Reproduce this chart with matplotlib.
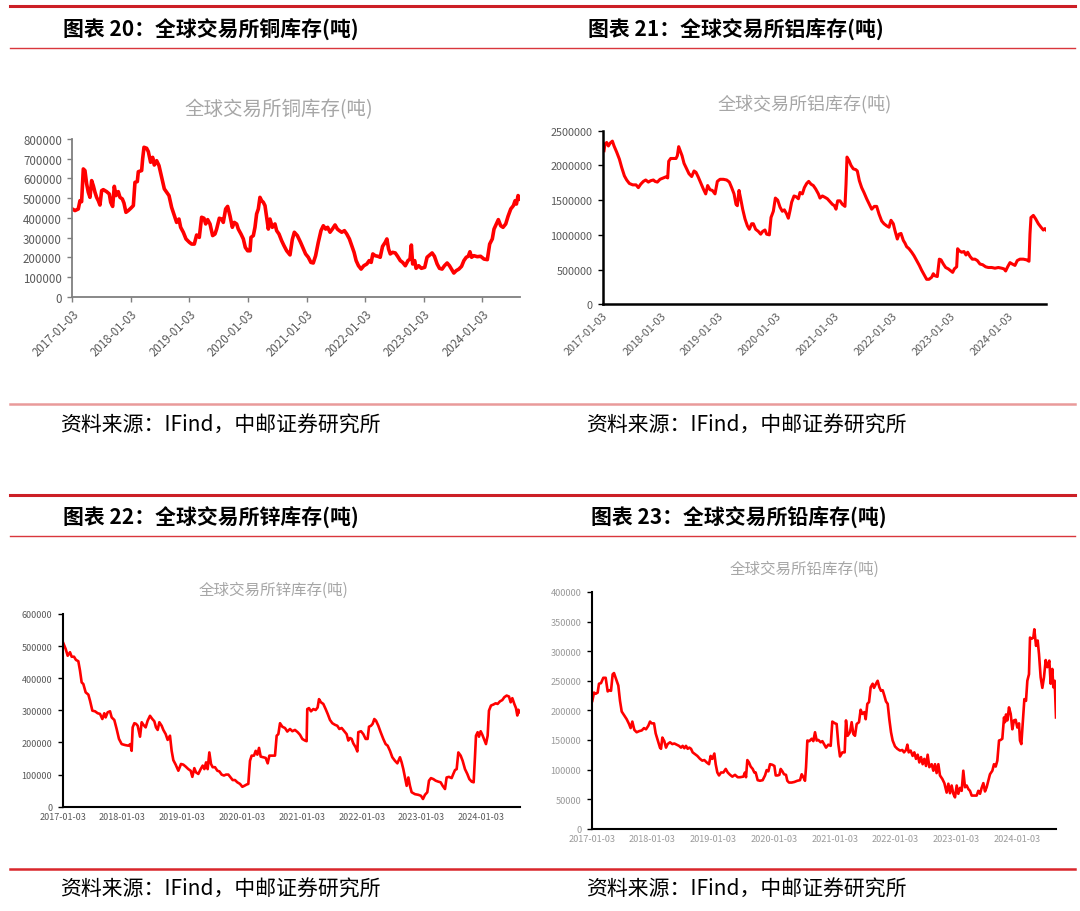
import matplotlib.pyplot as plt
from matplotlib.lines import Line2D

plt.rcParams['font.family'] = ['Noto Sans CJK SC', 'DejaVu Sans']

# x positions are decimal years, values are thousand tonnes
year_ticks = [2017, 2018, 2019, 2020, 2021, 2022, 2023, 2024]
tick_labels = ['2017-01-03', '2018-01-03', '2019-01-03', '2020-01-03',
               '2021-01-03', '2022-01-03', '2023-01-03', '2024-01-03']

cu_years = [2017.000, 2017.046, 2017.102, 2017.131, 2017.159, 2017.188, 2017.216, 2017.245, 2017.273, 2017.302,
            2017.330, 2017.359, 2017.387, 2017.415, 2017.444, 2017.472, 2017.501, 2017.529, 2017.586, 2017.632,
            2017.655, 2017.689, 2017.717, 2017.746, 2017.785, 2017.814, 2017.854, 2017.882, 2017.916, 2017.956,
            2017.996, 2018.042, 2018.070, 2018.110, 2018.127, 2018.184, 2018.201, 2018.224, 2018.269, 2018.298,
            2018.337, 2018.372, 2018.400, 2018.440, 2018.480, 2018.525, 2018.571, 2018.611, 2018.651, 2018.696,
            2018.742, 2018.781, 2018.821, 2018.850, 2018.895, 2018.941, 2018.998, 2019.038, 2019.083, 2019.123,
            2019.168, 2019.208, 2019.248, 2019.277, 2019.311, 2019.351, 2019.396, 2019.436, 2019.464, 2019.510,
            2019.550, 2019.578, 2019.618, 2019.652, 2019.692, 2019.732, 2019.766, 2019.806, 2019.834, 2019.880,
            2019.920, 2019.954, 2019.994, 2020.034, 2020.051, 2020.091, 2020.119, 2020.147, 2020.176, 2020.204,
            2020.233, 2020.261, 2020.290, 2020.318, 2020.347, 2020.375, 2020.415, 2020.460, 2020.489, 2020.529,
            2020.574, 2020.614, 2020.660, 2020.717, 2020.756, 2020.791, 2020.842, 2020.897, 2020.943, 2020.983,
            2021.029, 2021.074, 2021.114, 2021.154, 2021.200, 2021.246, 2021.286, 2021.326, 2021.360, 2021.400,
            2021.440, 2021.486, 2021.526, 2021.560, 2021.600, 2021.646, 2021.686, 2021.731, 2021.771, 2021.811,
            2021.846, 2021.886, 2021.931, 2021.977, 2022.029, 2022.069, 2022.103, 2022.131, 2022.171, 2022.217,
            2022.257, 2022.297, 2022.343, 2022.371, 2022.400, 2022.429, 2022.469, 2022.514, 2022.554, 2022.600,
            2022.640, 2022.686, 2022.731, 2022.766, 2022.789, 2022.811, 2022.846, 2022.869, 2022.914, 2022.960,
            2023.017, 2023.057, 2023.103, 2023.143, 2023.183, 2023.229, 2023.269, 2023.314, 2023.354, 2023.400,
            2023.440, 2023.474, 2023.514, 2023.554, 2023.600, 2023.646, 2023.686, 2023.726, 2023.760, 2023.789,
            2023.817, 2023.857, 2023.914, 2023.971, 2024.029, 2024.086, 2024.126, 2024.171, 2024.200, 2024.240,
            2024.274, 2024.314, 2024.354, 2024.400, 2024.440, 2024.486, 2024.531, 2024.560, 2024.583, 2024.611,
            2024.640]
cu_kt = [445, 437, 445, 487, 482, 648, 640, 572, 530, 504,
         589, 563, 530, 504, 487, 465, 538, 543, 533, 521,
         479, 458, 560, 513, 533, 504, 496, 475, 428, 437,
         448, 462, 580, 584, 634, 640, 699, 758, 753, 736,
         682, 707, 668, 690, 665, 606, 547, 530, 513, 453,
         411, 377, 394, 352, 327, 293, 276, 267, 267, 313,
         301, 403, 398, 369, 391, 369, 310, 318, 343, 398,
         394, 377, 445, 458, 411, 352, 377, 369, 343, 318,
         293, 250, 233, 233, 301, 310, 352, 420, 445, 504,
         487, 479, 462, 403, 343, 394, 352, 369, 335, 318,
         284, 259, 233, 212, 290, 327, 310, 276, 245, 217,
         200, 174, 171, 208, 276, 335, 360, 343, 352, 327,
         343, 364, 343, 335, 327, 335, 318, 293, 259, 225,
         183, 157, 140, 157, 166, 183, 174, 217, 208, 205,
         200, 255, 276, 293, 242, 217, 225, 222, 205, 183,
         174, 157, 183, 191, 262, 166, 183, 144, 157, 144,
         149, 200, 212, 222, 205, 166, 144, 140, 157, 171,
         157, 140, 120, 132, 140, 154, 183, 200, 205, 228,
         200, 208, 203, 205, 191, 188, 267, 293, 343, 369,
         391, 360, 352, 369, 408, 445, 462, 487, 470, 513,
         496]

al_years = [2017.023, 2017.040, 2017.069, 2017.098, 2017.127, 2017.167, 2017.196, 2017.242, 2017.288, 2017.328,
            2017.374, 2017.414, 2017.460, 2017.518, 2017.575, 2017.615, 2017.656, 2017.702, 2017.742, 2017.788,
            2017.828, 2017.874, 2017.903, 2017.943, 2017.989, 2018.047, 2018.104, 2018.121, 2018.139, 2018.173,
            2018.219, 2018.265, 2018.288, 2018.311, 2018.334, 2018.369, 2018.403, 2018.449, 2018.489, 2018.535,
            2018.576, 2018.610, 2018.650, 2018.696, 2018.737, 2018.777, 2018.811, 2018.852, 2018.892, 2018.938,
            2018.978, 2019.024, 2019.082, 2019.139, 2019.185, 2019.225, 2019.266, 2019.300, 2019.323, 2019.352,
            2019.381, 2019.415, 2019.455, 2019.496, 2019.530, 2019.570, 2019.599, 2019.639, 2019.685, 2019.726,
            2019.760, 2019.800, 2019.829, 2019.875, 2019.904, 2019.944, 2019.979, 2020.019, 2020.059, 2020.099,
            2020.134, 2020.174, 2020.203, 2020.232, 2020.260, 2020.301, 2020.335, 2020.376, 2020.404, 2020.445,
            2020.479, 2020.519, 2020.554, 2020.594, 2020.634, 2020.675, 2020.721, 2020.749, 2020.790, 2020.836,
            2020.876, 2020.962, 2020.997, 2021.025, 2021.054, 2021.094, 2021.135, 2021.180, 2021.198, 2021.215,
            2021.250, 2021.284, 2021.324, 2021.365, 2021.393, 2021.428, 2021.468, 2021.508, 2021.554, 2021.600,
            2021.641, 2021.687, 2021.727, 2021.767, 2021.813, 2021.853, 2021.899, 2021.940, 2021.974, 2022.014,
            2022.043, 2022.083, 2022.112, 2022.147, 2022.170, 2022.187, 2022.216, 2022.244, 2022.285, 2022.331,
            2022.371, 2022.417, 2022.463, 2022.503, 2022.543, 2022.589, 2022.630, 2022.676, 2022.704, 2022.733,
            2022.773, 2022.808, 2022.837, 2022.877, 2022.917, 2022.963, 2023.009, 2023.038, 2023.067, 2023.107,
            2023.124, 2023.153, 2023.193, 2023.233, 2023.268, 2023.297, 2023.337, 2023.377, 2023.423, 2023.463,
            2023.509, 2023.555, 2023.607, 2023.653, 2023.711, 2023.768, 2023.826, 2023.883, 2023.924, 2023.952,
            2023.987, 2024.027, 2024.067, 2024.113, 2024.153, 2024.199, 2024.257, 2024.314, 2024.355, 2024.372,
            2024.389, 2024.430, 2024.470, 2024.516, 2024.562, 2024.602, 2024.631, 2024.660]
al_kt = [2212, 2310, 2330, 2280, 2320, 2350, 2280, 2190, 2090, 1970,
         1850, 1790, 1740, 1720, 1720, 1680, 1730, 1770, 1790, 1760,
         1780, 1790, 1770, 1760, 1800, 1820, 1840, 1820, 2060, 2100,
         2100, 2100, 2140, 2270, 2220, 2140, 2030, 1950, 1880, 1840,
         1920, 1900, 1830, 1740, 1660, 1590, 1710, 1650, 1640, 1590,
         1770, 1800, 1800, 1790, 1760, 1680, 1590, 1440, 1420, 1640,
         1520, 1370, 1230, 1130, 1080, 1160, 1160, 1080, 1050, 1010,
         1050, 1070, 1010, 1000, 1250, 1340, 1530, 1500, 1400, 1340,
         1360, 1300, 1240, 1350, 1470, 1560, 1550, 1520, 1610, 1590,
         1680, 1740, 1770, 1730, 1710, 1660, 1590, 1530, 1560, 1540,
         1520, 1440, 1420, 1370, 1490, 1490, 1440, 1410, 1730, 2120,
         2070, 2000, 1950, 1940, 1920, 1780, 1680, 1610, 1520, 1440,
         1370, 1410, 1410, 1300, 1200, 1160, 1130, 1110, 1210, 1160,
         1060, 940, 1010, 1020, 960, 920, 880, 830, 800, 750,
         700, 630, 560, 490, 430, 360, 360, 390, 440, 410,
         400, 650, 640, 580, 530, 510, 480, 460, 510, 540,
         800, 770, 750, 760, 710, 750, 690, 650, 650, 630,
         580, 570, 540, 530, 530, 520, 530, 520, 510, 480,
         540, 600, 580, 560, 630, 650, 650, 640, 620, 1010,
         1250, 1280, 1230, 1160, 1110, 1070, 1090, 1060]

zn_years = [2017.011, 2017.050, 2017.083, 2017.122, 2017.150, 2017.189, 2017.222, 2017.261, 2017.289, 2017.317,
            2017.345, 2017.384, 2017.429, 2017.457, 2017.496, 2017.541, 2017.585, 2017.624, 2017.663, 2017.696,
            2017.718, 2017.752, 2017.791, 2017.819, 2017.863, 2017.902, 2017.941, 2017.986, 2018.042, 2018.098,
            2018.131, 2018.153, 2018.170, 2018.198, 2018.226, 2018.254, 2018.293, 2018.321, 2018.349, 2018.387,
            2018.421, 2018.460, 2018.499, 2018.532, 2018.560, 2018.588, 2018.616, 2018.655, 2018.683, 2018.722,
            2018.755, 2018.794, 2018.822, 2018.850, 2018.889, 2018.934, 2018.978, 2019.017, 2019.056, 2019.101,
            2019.140, 2019.168, 2019.201, 2019.229, 2019.268, 2019.307, 2019.341, 2019.369, 2019.397, 2019.424,
            2019.452, 2019.480, 2019.508, 2019.547, 2019.586, 2019.620, 2019.658, 2019.697, 2019.731, 2019.770,
            2019.809, 2019.842, 2019.881, 2019.920, 2019.965, 2020.004, 2020.037, 2020.076, 2020.104, 2020.132,
            2020.160, 2020.199, 2020.227, 2020.255, 2020.283, 2020.311, 2020.355, 2020.394, 2020.428, 2020.456,
            2020.494, 2020.550, 2020.578, 2020.606, 2020.634, 2020.673, 2020.717, 2020.756, 2020.801, 2020.840,
            2020.884, 2020.929, 2020.968, 2021.007, 2021.051, 2021.079, 2021.090, 2021.118, 2021.152, 2021.191,
            2021.230, 2021.263, 2021.286, 2021.319, 2021.358, 2021.397, 2021.431, 2021.470, 2021.509, 2021.553,
            2021.592, 2021.626, 2021.665, 2021.709, 2021.748, 2021.776, 2021.804, 2021.832, 2021.860, 2021.899,
            2021.927, 2021.943, 2021.988, 2022.027, 2022.066, 2022.099, 2022.122, 2022.155, 2022.183, 2022.211,
            2022.239, 2022.278, 2022.317, 2022.361, 2022.400, 2022.434, 2022.473, 2022.512, 2022.556, 2022.596,
            2022.640, 2022.668, 2022.696, 2022.724, 2022.752, 2022.780, 2022.807, 2022.835, 2022.891, 2022.947,
            2022.991, 2023.025, 2023.058, 2023.097, 2023.125, 2023.158, 2023.198, 2023.237, 2023.281, 2023.320,
            2023.354, 2023.393, 2023.420, 2023.459, 2023.504, 2023.532, 2023.560, 2023.588, 2023.616, 2023.655,
            2023.688, 2023.727, 2023.766, 2023.800, 2023.839, 2023.872, 2023.894, 2023.911, 2023.939, 2023.961,
            2023.989, 2024.017, 2024.050, 2024.078, 2024.106, 2024.128, 2024.162, 2024.201, 2024.240, 2024.273,
            2024.312, 2024.351, 2024.385, 2024.424, 2024.463, 2024.491, 2024.519, 2024.552, 2024.580, 2024.602,
            2024.619, 2024.647]
zn_kt = [509, 491, 470, 481, 467, 467, 457, 453, 424, 387,
         382, 356, 349, 330, 299, 297, 291, 289, 273, 291,
         278, 294, 297, 278, 270, 242, 211, 195, 192, 190,
         195, 174, 247, 260, 258, 252, 218, 263, 255, 247,
         268, 283, 273, 266, 247, 239, 263, 252, 239, 226,
         208, 221, 174, 145, 131, 112, 133, 131, 125, 117,
         112, 93, 120, 107, 102, 117, 128, 117, 138, 117,
         169, 133, 123, 123, 112, 110, 100, 97, 100, 100,
         91, 83, 83, 76, 71, 62, 65, 69, 71, 143,
         159, 159, 174, 162, 183, 156, 154, 152, 135, 159,
         159, 159, 221, 226, 260, 249, 245, 234, 242, 235,
         239, 232, 224, 211, 206, 204, 304, 307, 297, 304,
         301, 309, 335, 325, 320, 304, 289, 270, 260, 255,
         252, 242, 245, 235, 226, 206, 214, 211, 197, 185,
         172, 232, 235, 226, 211, 211, 249, 252, 258, 273,
         268, 252, 232, 211, 195, 190, 174, 154, 143, 135,
         154, 138, 117, 91, 65, 91, 65, 45, 39, 37,
         34, 24, 37, 45, 81, 89, 86, 81, 78, 76,
         65, 55, 91, 93, 89, 102, 114, 117, 169, 159,
         143, 117, 102, 86, 78, 76, 154, 221, 232, 218,
         235, 224, 208, 195, 221, 299, 315, 318, 322, 320,
         328, 332, 341, 346, 343, 325, 338, 320, 307, 284,
         302, 294]

pb_years = [2017.010, 2017.038, 2017.065, 2017.098, 2017.120, 2017.153, 2017.191, 2017.230, 2017.263, 2017.290,
            2017.318, 2017.345, 2017.367, 2017.400, 2017.438, 2017.466, 2017.494, 2017.537, 2017.576, 2017.614,
            2017.641, 2017.669, 2017.702, 2017.740, 2017.784, 2017.823, 2017.861, 2017.894, 2017.932, 2017.960,
            2017.987, 2018.026, 2018.053, 2018.086, 2018.124, 2018.141, 2018.163, 2018.195, 2018.223, 2018.250,
            2018.289, 2018.327, 2018.360, 2018.398, 2018.437, 2018.470, 2018.497, 2018.525, 2018.552, 2018.580,
            2018.607, 2018.635, 2018.662, 2018.700, 2018.739, 2018.783, 2018.821, 2018.854, 2018.893, 2018.931,
            2018.958, 2018.986, 2019.019, 2019.041, 2019.068, 2019.096, 2019.129, 2019.168, 2019.206, 2019.239,
            2019.278, 2019.315, 2019.359, 2019.403, 2019.441, 2019.496, 2019.523, 2019.540, 2019.562, 2019.589,
            2019.617, 2019.650, 2019.677, 2019.699, 2019.732, 2019.770, 2019.814, 2019.853, 2019.880, 2019.908,
            2019.935, 2019.974, 2020.007, 2020.029, 2020.061, 2020.089, 2020.111, 2020.138, 2020.166, 2020.198,
            2020.220, 2020.248, 2020.292, 2020.336, 2020.385, 2020.429, 2020.457, 2020.484, 2020.511, 2020.528,
            2020.550, 2020.583, 2020.621, 2020.648, 2020.676, 2020.703, 2020.731, 2020.769, 2020.797, 2020.857,
            2020.895, 2020.934, 2020.961, 2021.005, 2021.032, 2021.060, 2021.087, 2021.126, 2021.164, 2021.186,
            2021.213, 2021.252, 2021.279, 2021.307, 2021.334, 2021.362, 2021.400, 2021.427, 2021.455, 2021.488,
            2021.510, 2021.537, 2021.565, 2021.592, 2021.625, 2021.647, 2021.680, 2021.707, 2021.735, 2021.762,
            2021.790, 2021.817, 2021.844, 2021.872, 2021.899, 2021.927, 2021.954, 2021.993, 2022.031, 2022.075,
            2022.113, 2022.141, 2022.174, 2022.196, 2022.218, 2022.250, 2022.283, 2022.311, 2022.338, 2022.366,
            2022.393, 2022.421, 2022.448, 2022.475, 2022.503, 2022.530, 2022.558, 2022.596, 2022.624, 2022.651,
            2022.678, 2022.706, 2022.733, 2022.772, 2022.805, 2022.843, 2022.871, 2022.898, 2022.925, 2022.953,
            2022.980, 2023.008, 2023.035, 2023.063, 2023.090, 2023.117, 2023.145, 2023.172, 2023.200, 2023.227,
            2023.255, 2023.293, 2023.337, 2023.364, 2023.392, 2023.419, 2023.447, 2023.474, 2023.501, 2023.529,
            2023.556, 2023.595, 2023.622, 2023.650, 2023.677, 2023.705, 2023.732, 2023.759, 2023.787, 2023.803,
            2023.820, 2023.842, 2023.869, 2023.897, 2023.924, 2023.951, 2023.979, 2024.006, 2024.034, 2024.050,
            2024.072, 2024.094, 2024.122, 2024.149, 2024.171, 2024.198, 2024.215, 2024.242, 2024.270, 2024.286,
            2024.314, 2024.341, 2024.363, 2024.390, 2024.418, 2024.445, 2024.473, 2024.500, 2024.533, 2024.555,
            2024.582, 2024.599, 2024.621, 2024.632, 2024.643]
pb_kt = [216, 230, 228, 230, 245, 246, 255, 255, 232, 234,
         233, 261, 263, 253, 242, 216, 198, 191, 185, 177,
         170, 181, 167, 163, 165, 166, 170, 168, 174, 181,
         178, 178, 161, 150, 137, 135, 154, 148, 137, 143,
         146, 143, 144, 142, 140, 137, 140, 136, 140, 135,
         137, 135, 129, 126, 123, 118, 115, 116, 112, 109,
         123, 118, 127, 109, 95, 90, 95, 95, 101, 95,
         91, 88, 91, 87, 87, 88, 95, 87, 116, 112,
         105, 101, 95, 95, 82, 81, 82, 90, 99, 97,
         109, 108, 106, 90, 90, 91, 101, 97, 92, 91,
         81, 78, 78, 79, 81, 82, 92, 87, 81, 104,
         149, 148, 152, 148, 163, 149, 150, 146, 148, 137,
         142, 140, 181, 178, 177, 143, 122, 129, 129, 183,
         157, 163, 180, 160, 157, 177, 180, 201, 194, 197,
         185, 211, 214, 239, 245, 238, 245, 250, 239, 233,
         234, 225, 215, 211, 185, 163, 149, 139, 135, 132,
         133, 129, 133, 142, 129, 132, 123, 129, 118, 125,
         112, 121, 109, 118, 106, 125, 104, 109, 98, 109,
         94, 109, 90, 84, 77, 61, 76, 60, 73, 59,
         53, 73, 59, 69, 64, 98, 70, 73, 67, 64,
         56, 56, 56, 64, 59, 69, 77, 63, 70, 81,
         92, 98, 109, 105, 115, 149, 150, 152, 188, 180,
         193, 183, 205, 194, 168, 183, 184, 171, 178, 149,
         143, 177, 219, 216, 250, 261, 323, 321, 323, 337,
         309, 318, 295, 256, 238, 256, 285, 273, 284, 245,
         270, 239, 250, 219, 188]

W, H = 1080, 912
fig = plt.figure(figsize=(W / 100, H / 100), dpi=100)
fig.patch.set_facecolor('white')

RED = '#ff0000'


def px_axes(left, top, right, bottom):
    return fig.add_axes([left / W, 1 - bottom / H, (right - left) / W, (bottom - top) / H])


def hline(y, x0, x1, color, lw):
    fig.add_artist(Line2D([x0 / W, x1 / W], [1 - y / H, 1 - y / H],
                          transform=fig.transFigure, color=color, lw=lw))


def ftext(x, y, s, **kw):
    fig.text(x / W, 1 - y / H, s, va='center', **kw)


# frame lines, headers, sources
for y_top, y_head, y_src, src_color in [(7, 49, 405, '#e99a9a'), (496, 537, 870, '#d9262c')]:
    hline(y_top, 10, 1075, '#cc1f26', 2.2)
    hline(y_head, 10, 1075, '#d9363c', 1.0)
    hline(y_src, 10, 1075, src_color, 1.8)

ftext(63, 29, '图表 20：全球交易所铜库存(吨)', fontsize=15, fontweight='bold')
ftext(588, 29, '图表 21：全球交易所铝库存(吨)', fontsize=15, fontweight='bold')
ftext(63, 517, '图表 22：全球交易所锌库存(吨)', fontsize=15, fontweight='bold')
ftext(591, 517, '图表 23：全球交易所铅库存(吨)', fontsize=15, fontweight='bold')
for x, y in [(60, 426), (586, 426), (60, 890), (586, 890)]:
    ftext(x, y, '资料来源：IFind，中邮证券研究所', fontsize=15)

x_end = 2024.65


def setup(ax, ymax, ystep, lab_size, lab_color, spine_color, spine_w, rotate, xticks_on):
    ax.set_xlim(2017, x_end)
    ax.set_ylim(0, ymax)
    yt = list(range(0, ymax + 1, ystep))
    ax.set_yticks(yt)
    ax.set_yticklabels([str(v) for v in yt], fontsize=lab_size, color=lab_color)
    ax.set_xticks(year_ticks)
    if rotate:
        ax.set_xticklabels(tick_labels, fontsize=lab_size, color=lab_color,
                           rotation=45, ha='right', rotation_mode='anchor')
    else:
        ax.set_xticklabels(tick_labels, fontsize=lab_size, color=lab_color)
    for s in ['top', 'right']:
        ax.spines[s].set_visible(False)
    for s in ['left', 'bottom']:
        ax.spines[s].set_color(spine_color)
        ax.spines[s].set_linewidth(spine_w)
    ax.tick_params(axis='y', direction='out', length=3.5, width=1, color=spine_color, pad=4)
    ax.tick_params(axis='x', direction='out', length=3.5 if xticks_on else 0,
                   width=1, color=spine_color, pad=4)
    ax.set_facecolor('white')


# copper
ax1 = px_axes(72.3, 140, 72.3 + 7.65 * 58.57, 297.7)
ax1.plot(cu_years, [v * 1000 for v in cu_kt], color=RED, lw=2.6, solid_joinstyle='round')
setup(ax1, 800000, 100000, 8.3, '#595959', '#7f7f7f', 1.3, True, True)
ftext(279, 110, '全球交易所铜库存(吨)', fontsize=14, color='#a6a6a6', ha='center')

# aluminium
ax2 = px_axes(602.7, 131.7, 602.7 + 7.65 * 57.96, 305.3)
ax2.plot(al_years, [v * 1000 for v in al_kt], color=RED, lw=2.2, solid_joinstyle='round')
setup(ax2, 2500000, 500000, 7.8, '#595959', '#000000', 1.8, True, False)
ftext(805, 105, '全球交易所铝库存(吨)', fontsize=13, color='#a6a6a6', ha='center')

# zinc
ax3 = px_axes(62.7, 615, 62.7 + 7.65 * 59.8, 807.7)
ax3.plot(zn_years, [v * 1000 for v in zn_kt], color=RED, lw=1.9, solid_joinstyle='round')
setup(ax3, 600000, 100000, 6.5, '#595959', '#000000', 1.5, False, False)
ftext(274, 590, '全球交易所锌库存(吨)', fontsize=11.2, color='#a6a6a6', ha='center')

# lead
ax4 = px_axes(591.7, 593, 591.7 + 7.65 * 60.75, 829.7)
ax4.plot(pb_years, [v * 1000 for v in pb_kt], color=RED, lw=1.9, solid_joinstyle='round')
setup(ax4, 400000, 50000, 6.6, '#9a9a9a', '#000000', 1.5, False, False)
ftext(805, 569, '全球交易所铅库存(吨)', fontsize=11.2, color='#a6a6a6', ha='center')

fig.savefig('out.png', dpi=100, facecolor='white')
